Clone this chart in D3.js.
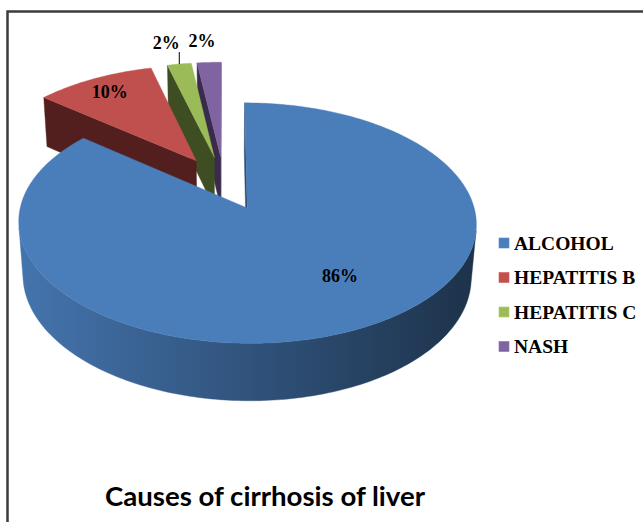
<html><head>
<meta charset="utf-8">
<title>Causes of cirrhosis of liver</title>
<script src="https://d3js.org/d3.v7.min.js"></script>
<style>
  body { margin: 0; background: #fff; }
</style>
</head>
<body>
<div id="chart"></div>

<script>
    // chart data
    const categories = ["ALCOHOL", "HEPATITIS B", "HEPATITIS C", "NASH"];
    const values = [86, 10, 2, 2];
    const percentLabels = ["86%", "10%", "2%", "2%"];
    const topColors = ["#4a7ebb", "#c0504d", "#9bbb59", "#8064a2"];
    const cutColors = ["#2c4a73", "#521f1e", "#3e4e22", "#3a2b4c"];
    const titleText = "Causes of cirrhosis of liver";

    const svgWidth = 643;
    const svgHeight = 522;

    // 3d view of the pie (unit radius in world space)
    const cx = 224, cy = 183, k = 221;
    const tilt = 30.5 * Math.PI / 180;
    const focal = 7.07;
    const depth = 0.28;
    const explode = 0.24;
    const eye = [0, focal * Math.sin(tilt), -focal * Math.cos(tilt)];

    function viewZ(X, Y, Z) {
        return Z * Math.cos(tilt) - Y * Math.sin(tilt);
    }
    function project(p) {
        const [X, Y, Z] = p;
        const yv = Y * Math.cos(tilt) + Z * Math.sin(tilt);
        const s = 1 / (1 + viewZ(X, Y, Z) / focal);
        return [cx + k * X * s, cy - k * yv * s];
    }
    const line = d3.line().x(d => project(d)[0]).y(d => project(d)[1]);

    const svg = d3.select("#chart")
        .append("svg")
        .attr("width", svgWidth)
        .attr("height", svgHeight);

    // frame (only left and top visible, cut by the picture)
    svg.append("path")
        .attr("d", "M7.5," + (svgHeight + 5) + " L7.5,11.5 L" + (svgWidth + 5) + ",11.5")
        .attr("fill", "none")
        .attr("stroke", "#3c3c3c")
        .attr("stroke-width", 2.5);

    const defs = svg.append("defs");

    const pie = d3.pie().sort(null).value(d => d);
    const arcs = pie(values);

    let sideFaces = [];
    let topFaces = [];

    arcs.forEach((a, i) => {
        const mid = (a.startAngle + a.endAngle) / 2;
        const ox = explode * Math.sin(mid), oz = explode * Math.cos(mid);
        const rim = (t, Y) => [ox + Math.sin(t), Y, oz + Math.cos(t)];
        const steps = Math.max(4, Math.ceil((a.endAngle - a.startAngle) / (Math.PI / 180)));
        const angs = d3.range(steps + 1).map(j => a.startAngle + (a.endAngle - a.startAngle) * j / steps);

        // top face
        topFaces.push({i: i, pts: [[ox, 0, oz]].concat(angs.map(t => rim(t, 0)))});

        // outer wall, only the part turned toward the eye
        const vis = angs.filter(t => {
            const p = rim(t, 0);
            return Math.sin(t) * (eye[0] - p[0]) + Math.cos(t) * (eye[2] - p[2]) > 0;
        });
        if (vis.length > 1) {
            const pts = vis.map(t => rim(t, 0)).concat(vis.slice().reverse().map(t => rim(t, -depth)));
            sideFaces.push({i: i, kind: "wall", pts: pts});
        }

        // radial cut faces
        [[a.startAngle, -1], [a.endAngle, 1]].forEach(([t, sgn]) => {
            const n = [sgn * Math.cos(t), 0, -sgn * Math.sin(t)];
            const dot = n[0] * (eye[0] - ox) + n[2] * (eye[2] - oz);
            if (dot > 0) {
                sideFaces.push({i: i, kind: "cut",
                    pts: [[ox, 0, oz], rim(t, 0), rim(t, -depth), [ox, -depth, oz]]});
            }
        });
    });

    // wall shading: lighter on the left, dark on the right
    topColors.forEach((c, i) => {
        const g = defs.append("linearGradient")
            .attr("id", "wall" + i)
            .attr("gradientUnits", "userSpaceOnUse")
            .attr("x1", 20).attr("x2", 476).attr("y1", 0).attr("y2", 0);
        g.append("stop").attr("offset", 0).attr("stop-color", d3.color(c).darker(0.22));
        g.append("stop").attr("offset", 1).attr("stop-color", d3.color(c).darker(2.6));
    });

    const avgDepth = f => d3.mean(f.pts, p => viewZ(p[0], p[1], p[2]));
    sideFaces.sort((a, b) => avgDepth(b) - avgDepth(a));

    const sideFill = f => f.kind === "wall" ? "url(#wall" + f.i + ")" : cutColors[f.i];

    svg.append("g").selectAll("path")
        .data(sideFaces)
        .join("path")
        .attr("d", f => line(f.pts) + "Z")
        .attr("fill", sideFill)
        .attr("stroke", sideFill)
        .attr("stroke-width", 0.4)
        .attr("stroke-linejoin", "round");

    svg.append("g").selectAll("path")
        .data(topFaces)
        .join("path")
        .attr("d", f => line(f.pts) + "Z")
        .attr("fill", f => topColors[f.i])
        .attr("stroke", f => topColors[f.i])
        .attr("stroke-width", 0.4)
        .attr("stroke-linejoin", "round");

    // data labels
    const labelLayout = [
        {r: 0.65, turn: -10, inside: true},
        {r: 0.83, turn: 0, inside: true},
        {r: 1.0, turn: 0, inside: false, dx: -13, leader: true},
        {r: 1.0, turn: 0, inside: false, dx: -7, leader: false}
    ];
    const labels = svg.append("g")
        .attr("font-family", "'Liberation Serif', 'Times New Roman', serif")
        .attr("font-weight", "bold")
        .attr("font-size", 18)
        .attr("fill", "#000");

    arcs.forEach((a, i) => {
        const lay = labelLayout[i];
        const mid = (a.startAngle + a.endAngle) / 2;
        const ox = explode * Math.sin(mid), oz = explode * Math.cos(mid);
        const t = mid + lay.turn * Math.PI / 180;
        const p = project([ox + lay.r * Math.sin(t), 0, oz + lay.r * Math.cos(t)]);
        if (lay.inside) {
            labels.append("text")
                .attr("x", p[0]).attr("y", p[1])
                .attr("dy", "0.35em")
                .attr("text-anchor", "middle")
                .text(percentLabels[i]);
        } else {
            if (lay.leader) {
                labels.append("line")
                    .attr("x1", p[0]).attr("x2", p[0])
                    .attr("y1", p[1]).attr("y2", p[1] - 12)
                    .attr("stroke", "#000").attr("stroke-width", 1);
            }
            labels.append("text")
                .attr("x", p[0] + lay.dx).attr("y", p[1] - 15)
                .attr("text-anchor", "middle")
                .text(percentLabels[i]);
        }
    });

    // legend
    const legend = svg.append("g")
        .attr("font-family", "'Liberation Serif', 'Times New Roman', serif")
        .attr("font-weight", "bold")
        .attr("font-size", 19.5);
    const row = legend.selectAll("g")
        .data(categories)
        .join("g")
        .attr("transform", (d, i) => "translate(499," + (243 + i * 34.5) + ")");
    row.append("rect")
        .attr("x", 0).attr("y", -5)
        .attr("width", 10).attr("height", 10)
        .attr("fill", (d, i) => topColors[i])
        .attr("stroke", (d, i) => d3.color(topColors[i]).brighter(0.3))
        .attr("stroke-width", 0.6);
    row.append("text")
        .attr("x", 15)
        .attr("dy", "0.35em")
        .text(d => d);

    // title
    svg.append("text")
        .attr("x", 105)
        .attr("y", 506)
        .attr("font-family", "Lato, 'Open Sans', sans-serif")
        .attr("font-weight", "bold")
        .attr("font-size", 27)
        .attr("textLength", 320)
        .attr("lengthAdjust", "spacingAndGlyphs")
        .attr("fill", "#000")
        .text(titleText);
</script>
</body></html>
